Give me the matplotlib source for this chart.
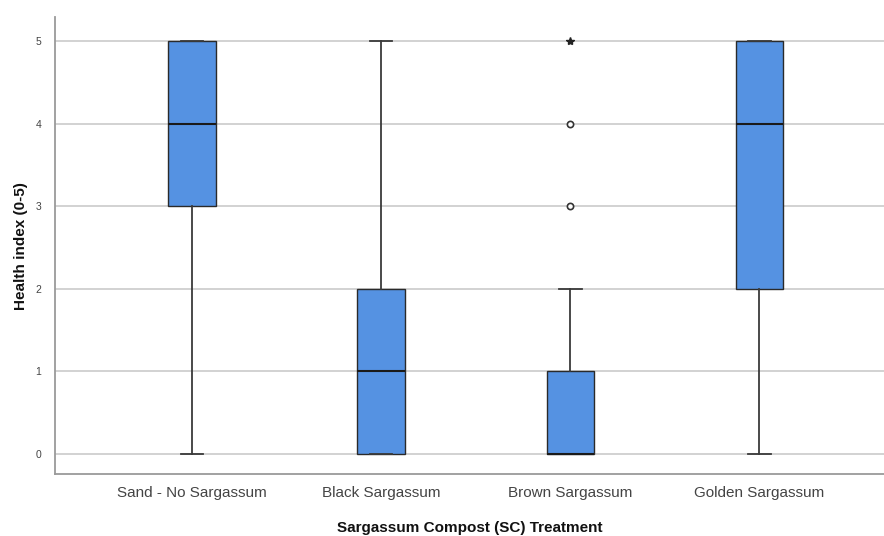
import matplotlib
matplotlib.use("Agg")
import matplotlib.pyplot as plt

plt.rcParams['font.family'] = ['Liberation Sans', 'DejaVu Sans']

categories = ["Sand - No Sargassum", "Black Sargassum", "Brown Sargassum", "Golden Sargassum"]
whisker_low = [0, 0, 0, 0]
q1 = [3, 0, 0, 2]
median = [4, 1, 0, 4]
q3 = [5, 2, 1, 5]
whisker_high = [5, 5, 2, 5]
# outliers (circle) and extremes (asterisk) per category
outliers = [[], [], [3, 4], []]
extremes = [[], [], [5], []]
yticks = [0, 1, 2, 3, 4, 5]

fig = plt.figure(figsize=(8.84, 5.36), dpi=100)
ax = fig.add_axes([0.0622, 0.1157, 0.9378, 0.8523])

stats = []
for i, name in enumerate(categories):
    stats.append(dict(label=name, whislo=whisker_low[i], q1=q1[i], med=median[i],
                      q3=q3[i], whishi=whisker_high[i], fliers=[]))

positions = list(range(len(categories)))
ax.bxp(stats, positions=positions, widths=0.25, patch_artist=True, showfliers=False,
       boxprops=dict(facecolor="#5592e2", edgecolor="#2a2a2a", linewidth=1.0),
       medianprops=dict(color="#1a1a1a", linewidth=1.5),
       whiskerprops=dict(color="#3a3a3a", linewidth=1.3),
       capprops=dict(color="#3a3a3a", linewidth=1.3),
       capwidths=0.12, zorder=3)

for i in positions:
    if outliers[i]:
        ax.plot([i] * len(outliers[i]), outliers[i], linestyle="none", marker="o",
                markersize=4.5, markerfacecolor="white", markeredgecolor="#333333",
                markeredgewidth=1.2, zorder=4)
    if extremes[i]:
        ax.plot([i] * len(extremes[i]), extremes[i], linestyle="none", marker="*",
                markersize=6, color="#222222", zorder=4)

ax.set_xlim(-0.725, 3.66)
ax.set_ylim(-0.242, 5.29)
ax.set_yticks(yticks)
ax.set_yticklabels([str(t) for t in yticks], fontsize=7.5, color="#444444")
ax.set_xticks(positions)
ax.set_xticklabels(categories, fontsize=11, color="#444444")
ax.tick_params(axis="both", length=0, pad=10)
ax.tick_params(axis="x", pad=9)

ax.yaxis.grid(True, color="#cfcfcf", linewidth=1.3, zorder=0)
ax.set_axisbelow(True)

for side in ["top", "right"]:
    ax.spines[side].set_visible(False)
for side in ["left", "bottom"]:
    ax.spines[side].set_color("#9a9a9a")
    ax.spines[side].set_linewidth(1.3)

ax.set_ylabel("Health index (0-5)", fontsize=11, fontweight="bold",
              color="#111111", labelpad=5)
ax.set_xlabel("Sargassum Compost (SC) Treatment", fontsize=11, fontweight="bold",
              color="#111111", labelpad=15)

fig.savefig("out.png", dpi=100)
